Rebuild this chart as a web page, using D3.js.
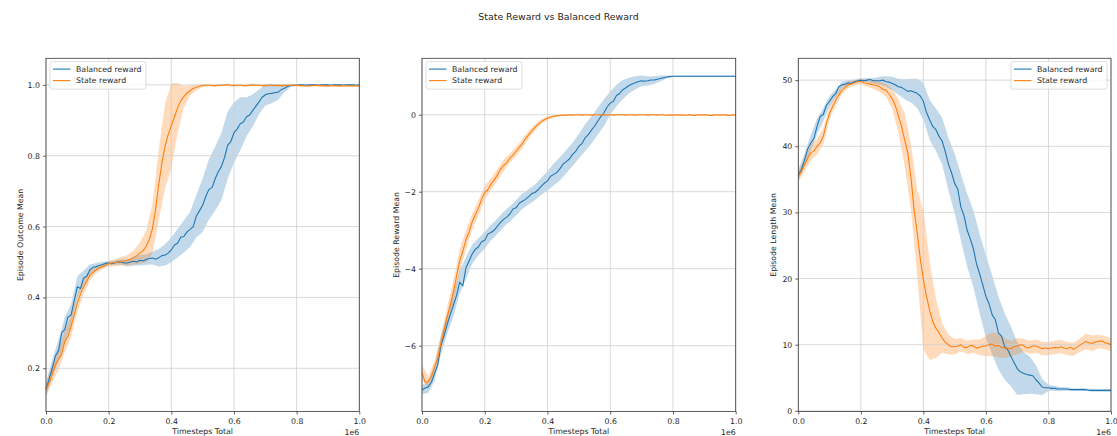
<!DOCTYPE html>
<html>
<head>
<meta charset="utf-8">
<script src="https://cdn.jsdelivr.net/npm/d3@7"></script>
<style>
  html, body { margin: 0; padding: 0; background: #fff; }
  svg { display: block; font-family: "DejaVu Sans", sans-serif; }
</style>
</head>
<body>
<svg id="chart" width="1117" height="436"></svg>
<script>
// ---------------- DATA ----------------
const title = "State Reward vs Balanced Reward";
const seriesNames = ["Balanced reward", "State reward"];
const xLabel = "Timesteps Total";
const xOffsetLabel = "1e6";
const xTickValues = [0, 0.2, 0.4, 0.6, 0.8, 1.0];
const xTickLabels = ["0.0", "0.2", "0.4", "0.6", "0.8", "1.0"];

// timesteps (units of 1e6) for the mean lines
const lineSteps = [
  0.00, 0.01, 0.02, 0.03, 0.04, 0.05, 0.06, 0.07, 0.08, 0.09,
  0.10, 0.11, 0.12, 0.13, 0.14, 0.15, 0.16, 0.17, 0.18, 0.19,
  0.20, 0.21, 0.22, 0.23, 0.24, 0.25, 0.26, 0.27, 0.28, 0.29,
  0.30, 0.31, 0.32, 0.33, 0.34, 0.35, 0.36, 0.37, 0.38, 0.39,
  0.40, 0.41, 0.42, 0.43, 0.44, 0.45, 0.46, 0.47, 0.48, 0.49,
  0.50, 0.51, 0.52, 0.53, 0.54, 0.55, 0.56, 0.57, 0.58, 0.59,
  0.60, 0.61, 0.62, 0.63, 0.64, 0.65, 0.66, 0.67, 0.68, 0.69,
  0.70, 0.71, 0.72, 0.73, 0.74, 0.75, 0.76, 0.77, 0.78, 0.79,
  0.80, 0.81, 0.82, 0.83, 0.84, 0.85, 0.86, 0.87, 0.88, 0.89,
  0.90, 0.91, 0.92, 0.93, 0.94, 0.95, 0.96, 0.97, 0.98, 0.99,
  1.00];
// timesteps for the spread bands (every second line step)
const bandSteps = [0, 0.02, 0.04, 0.06, 0.08, 0.10, 0.12, 0.14, 0.16, 0.18,
  0.20, 0.22, 0.24, 0.26, 0.28, 0.30, 0.32, 0.34, 0.36, 0.38,
  0.40, 0.42, 0.44, 0.46, 0.48, 0.50, 0.52, 0.54, 0.56, 0.58,
  0.60, 0.62, 0.64, 0.66, 0.68, 0.70, 0.72, 0.74, 0.76, 0.78,
  0.80, 0.82, 0.84, 0.86, 0.88, 0.90, 0.92, 0.94, 0.96, 0.98, 1.00];

// Panel 1: Episode Outcome Mean
const outcomeLabel = "Episode Outcome Mean";
const outcomeTicks = [0.2, 0.4, 0.6, 0.8, 1.0];
const outcomeTickLabels = ["0.2", "0.4", "0.6", "0.8", "1.0"];
const outcomeBalanced = [
  0.14, 0.17, 0.20, 0.235, 0.25, 0.30, 0.31, 0.345, 0.35, 0.39,
  0.43, 0.425, 0.455, 0.46, 0.478, 0.485, 0.487, 0.49, 0.493, 0.496,
  0.497, 0.495, 0.498, 0.501, 0.50, 0.497, 0.497, 0.50, 0.502, 0.50,
  0.505, 0.503, 0.507, 0.51, 0.511, 0.508, 0.512, 0.518, 0.52, 0.525,
  0.534, 0.548, 0.553, 0.57, 0.572, 0.585, 0.592, 0.60, 0.63, 0.645,
  0.66, 0.685, 0.705, 0.71, 0.735, 0.755, 0.77, 0.795, 0.83, 0.84,
  0.865, 0.875, 0.89, 0.895, 0.91, 0.915, 0.928, 0.94, 0.952, 0.965,
  0.972, 0.975, 0.976, 0.978, 0.979, 0.986, 0.99, 0.995, 0.998, 0.999,
  0.999, 1.0, 1.0, 0.999, 1.0, 1.0, 1.0, 0.999, 1.0, 1.0,
  1.0, 0.999, 1.0, 1.0, 1.0, 0.999, 1.0, 1.0, 1.0, 0.999,
  1.0];
const outcomeBalancedSpread = [0.02, 0.025, 0.03, 0.035, 0.03, 0.03, 0.02, 0.015, 0.01, 0.008,
  0.006, 0.006, 0.008, 0.01, 0.012, 0.015, 0.015, 0.018, 0.025, 0.03,
  0.035, 0.04, 0.045, 0.05, 0.06, 0.075, 0.085, 0.09, 0.095, 0.095,
  0.085, 0.075, 0.055, 0.045, 0.035, 0.03, 0.028, 0.022, 0.012, 0.004,
  0.002, 0.002, 0.002, 0.002, 0.002, 0.002, 0.002, 0.002, 0.002, 0.002, 0.002];
const outcomeState = [
  0.14, 0.16, 0.185, 0.21, 0.225, 0.24, 0.275, 0.29, 0.318, 0.35,
  0.384, 0.41, 0.43, 0.445, 0.462, 0.47, 0.478, 0.483, 0.487, 0.49,
  0.495, 0.497, 0.498, 0.50, 0.502, 0.503, 0.505, 0.508, 0.513, 0.518,
  0.525, 0.532, 0.545, 0.565, 0.595, 0.65, 0.72, 0.78, 0.826, 0.86,
  0.885, 0.91, 0.935, 0.955, 0.967, 0.977, 0.984, 0.99, 0.993, 0.996,
  0.998, 0.999, 0.999, 0.998, 0.998, 0.999, 0.999, 1.0, 1.0, 0.999,
  0.998, 0.999, 0.999, 0.998, 0.998, 0.999, 1.0, 0.999, 0.999, 0.998,
  0.998, 0.999, 0.999, 0.998, 0.999, 0.998, 0.998, 0.999, 0.999, 0.998,
  0.999, 0.998, 0.998, 0.997, 0.997, 0.998, 0.999, 0.998, 0.998, 0.997,
  0.997, 0.998, 0.998, 0.997, 0.997, 0.998, 0.998, 0.997, 0.997, 0.998,
  0.997];
const outcomeStateSpread = [0.02, 0.025, 0.03, 0.03, 0.03, 0.025, 0.02, 0.015, 0.01, 0.008,
  0.008, 0.01, 0.012, 0.015, 0.02, 0.03, 0.045, 0.07, 0.1, 0.12,
  0.12, 0.07, 0.03, 0.015, 0.008, 0.004, 0.003, 0.003, 0.003, 0.003,
  0.003, 0.003, 0.003, 0.003, 0.003, 0.003, 0.003, 0.003, 0.003, 0.003,
  0.003, 0.003, 0.003, 0.003, 0.003, 0.003, 0.003, 0.003, 0.003, 0.003, 0.003];

// Panel 2: Episode Reward Mean
const rewardLabel = "Episode Reward Mean";
const rewardTicks = [-6, -4, -2, 0];
const rewardTickLabels = ["\u22126", "\u22124", "\u22122", "0"];
const rewardBalanced = [
  -7.15, -7.1, -7.07, -6.95, -6.72, -6.5, -6.0, -5.75, -5.45, -5.2,
  -4.95, -4.7, -4.35, -4.45, -3.98, -3.8, -3.62, -3.5, -3.43, -3.3,
  -3.26, -3.1, -3.06, -3.0, -2.9, -2.8, -2.72, -2.66, -2.58, -2.45,
  -2.42, -2.3, -2.25, -2.2, -2.13, -2.05, -2.02, -1.95, -1.86, -1.78,
  -1.72, -1.6, -1.55, -1.5, -1.4, -1.28, -1.22, -1.15, -1.03, -0.95,
  -0.82, -0.75, -0.6, -0.52, -0.4, -0.3, -0.17, -0.05, 0.05, 0.2,
  0.3, 0.35, 0.5, 0.55, 0.65, 0.7, 0.76, 0.8, 0.83, 0.86,
  0.88, 0.87, 0.88, 0.9, 0.9, 0.92, 0.94, 0.96, 0.98, 0.99,
  1.0, 1.0, 1.0, 1.0, 1.0, 1.0, 1.0, 1.0, 1.0, 1.0,
  1.0, 1.0, 1.0, 1.0, 1.0, 1.0, 1.0, 1.0, 1.0, 1.0,
  1.0];
const rewardBalancedSpread = [0.12, 0.15, 0.2, 0.25, 0.25, 0.3, 0.3, 0.28, 0.25, 0.22,
  0.22, 0.2, 0.2, 0.2, 0.2, 0.2, 0.2, 0.2, 0.2, 0.22,
  0.25, 0.28, 0.3, 0.3, 0.3, 0.32, 0.35, 0.35, 0.35, 0.35,
  0.3, 0.28, 0.25, 0.2, 0.17, 0.14, 0.12, 0.1, 0.08, 0.04,
  0.02, 0.02, 0.02, 0.02, 0.02, 0.02, 0.02, 0.02, 0.02, 0.02, 0.02];
const rewardState = [
  -6.7, -6.95, -6.93, -6.8, -6.55, -6.35, -5.95, -5.6, -5.25, -4.95,
  -4.6, -4.2, -3.8, -3.55, -3.25, -3.05, -2.78, -2.6, -2.42, -2.2,
  -2.02, -1.95, -1.8, -1.7, -1.57, -1.42, -1.32, -1.25, -1.13, -1.05,
  -0.95, -0.85, -0.75, -0.62, -0.52, -0.42, -0.33, -0.25, -0.18, -0.13,
  -0.09, -0.06, -0.04, -0.03, -0.02, -0.01, -0.01, 0, -0.01, 0,
  0, -0.01, 0, 0, -0.01, 0, 0, 0, -0.01, 0,
  0, -0.01, 0, 0, 0, -0.01, 0, 0, -0.01, 0,
  0, 0, -0.01, 0, 0, -0.01, 0, 0, -0.02, 0,
  -0.01, 0, -0.01, 0, -0.02, 0, -0.01, -0.02, 0, -0.01,
  0, -0.01, -0.02, -0.01, 0, -0.01, 0, -0.01, -0.02, 0,
  -0.01];
const rewardStateSpread = [0.2, 0.15, 0.15, 0.2, 0.25, 0.3, 0.3, 0.25, 0.2, 0.2,
  0.18, 0.15, 0.15, 0.15, 0.12, 0.12, 0.12, 0.1, 0.08, 0.06,
  0.05, 0.03, 0.02, 0.015, 0.015, 0.015, 0.015, 0.015, 0.015, 0.015,
  0.015, 0.015, 0.015, 0.015, 0.015, 0.015, 0.015, 0.015, 0.015, 0.015,
  0.015, 0.015, 0.015, 0.015, 0.015, 0.015, 0.015, 0.015, 0.015, 0.015, 0.015];

// Panel 3: Episode Length Mean
const lengthLabel = "Episode Length Mean";
const lengthTicks = [0, 10, 20, 30, 40, 50];
const lengthTickLabels = ["0", "10", "20", "30", "40", "50"];
const lengthBalanced = [
  35.7, 36.5, 37.9, 39.6, 40.5, 41.2, 43.0, 44.5, 44.8, 46.2,
  46.8, 47.5, 48.0, 49.0, 49.3, 49.4, 49.6, 49.5, 49.8, 49.9,
  50.0, 49.9, 50.0, 50.1, 49.9, 49.9, 49.9, 50.0, 49.8, 49.7,
  49.5, 49.3, 49.0, 48.9, 48.6, 48.3, 48.4, 48.2, 48.0, 47.6,
  46.8, 45.1, 44.0, 43.0, 42.5, 41.5, 40.8, 39.2, 37.3, 36.0,
  34.4, 33.5, 30.8, 29.5, 27.3, 26.0, 24.5, 22.2, 20.7, 19.0,
  17.3, 16.2, 14.5, 13.8, 11.8, 11.3, 9.7, 9.2, 8.2, 7.3,
  6.4, 5.9, 5.7, 5.5, 5.4, 5.3, 4.7, 4.2, 3.6, 3.5,
  3.5, 3.4, 3.4, 3.3, 3.3, 3.3, 3.3, 3.2, 3.2, 3.2,
  3.2, 3.2, 3.2, 3.1, 3.1, 3.1, 3.1, 3.1, 3.1, 3.1,
  3.1];
const lengthBalancedSpread = [0.8, 1.0, 1.2, 1.2, 1.0, 0.8, 0.6, 0.5, 0.4, 0.3,
  0.3, 0.3, 0.4, 0.6, 0.8, 1.0, 1.2, 1.5, 1.8, 2.2,
  2.8, 3.0, 3.2, 3.5, 4.0, 4.5, 5.0, 5.5, 5.8, 6.0,
  6.2, 6.0, 5.5, 5.0, 4.5, 4.0, 3.2, 2.8, 2.2, 1.2,
  0.5, 0.35, 0.3, 0.25, 0.2, 0.2, 0.2, 0.2, 0.2, 0.2, 0.2];
const lengthState = [
  35.4, 36.2, 37.2, 38.2, 39.0, 39.3, 40.0, 40.5, 41.5, 43.5,
  45.0, 46.0, 47.0, 47.8, 48.5, 48.9, 49.3, 49.4, 49.6, 49.8,
  49.8, 49.6, 49.5, 49.4, 49.3, 49.2, 49.0, 48.6, 48.5, 47.9,
  47.2, 46.2, 44.6, 43.0, 41.0, 39.0, 35.5, 30.5, 27.0, 23.0,
  19.8, 17.3, 15.2, 13.5, 12.5, 11.8, 11.0, 10.4, 10.0, 9.7,
  9.7, 9.8, 10.0, 9.6, 9.6, 9.9, 9.8, 9.5, 9.6, 9.8,
  9.8, 10.0, 10.1, 9.8, 9.9, 9.6, 9.5, 9.5, 9.4, 9.7,
  9.8, 10.0, 9.9, 9.5, 9.6, 9.8, 9.8, 9.6, 9.4, 9.5,
  9.4, 9.5, 9.6, 9.5, 9.7, 9.5, 9.4, 9.6, 9.3, 9.6,
  9.9, 10.2, 10.5, 10.3, 10.2, 10.4, 10.5, 10.6, 10.3, 10.2,
  10.0];
const lengthStateSpread = [0.8, 1.0, 1.2, 1.2, 1.2, 1.0, 0.8, 0.6, 0.5, 0.4,
  0.4, 0.5, 0.6, 0.8, 1.0, 1.5, 2.5, 4.0, 5.0, 6.5,
  10.5, 7.5, 4.5, 2.2, 1.5, 1.2, 1.0, 1.0, 1.0, 1.2,
  1.5, 1.8, 1.8, 1.5, 1.2, 1.2, 1.0, 1.0, 1.0, 1.0,
  1.0, 1.0, 1.0, 1.0, 1.0, 1.0, 1.2, 1.2, 1.0, 1.0, 1.0];

// ---------------- LAYOUT / STYLE ----------------
const colors = ["#1f77b4", "#ff7f0e"];
const TOP = 58.3, BOTTOM = 411.5;
const panels = [
  { left: 46, right: 359.3, yDomain: [0.078, 1.075], yLabelX: 20,
    label: outcomeLabel, ticks: outcomeTicks, tickLabels: outcomeTickLabels,
    series: [[outcomeBalanced, outcomeBalancedSpread], [outcomeState, outcomeStateSpread]],
    legend: "left" },
  { left: 422, right: 735.7, yDomain: [-7.71, 1.465], yLabelX: 396.7,
    label: rewardLabel, ticks: rewardTicks, tickLabels: rewardTickLabels,
    series: [[rewardBalanced, rewardBalancedSpread], [rewardState, rewardStateSpread]],
    legend: "left" },
  { left: 798.3, right: 1111, yDomain: [-0.1, 53.3], yLabelX: 773.3,
    label: lengthLabel, ticks: lengthTicks, tickLabels: lengthTickLabels,
    series: [[lengthBalanced, lengthBalancedSpread], [lengthState, lengthStateSpread]],
    legend: "right" }
];

const svg = d3.select("#chart");
const FS = 7.8;
const textColor = "#262626";

svg.append("text")
  .attr("x", 558.5).attr("y", 17).attr("dy", "0.35em")
  .attr("text-anchor", "middle").attr("font-size", 9.4).attr("fill", textColor)
  .text(title);

panels.forEach(p => {
  const x = d3.scaleLinear().domain([0, 1]).range([p.left, p.right]);
  const y = d3.scaleLinear().domain(p.yDomain).range([BOTTOM, TOP]);
  const g = svg.append("g");

  // spread bands (band k is centred on line point 2k)
  p.series.forEach((s, i) => {
    const [mean, spread] = s;
    const area = d3.area()
      .x((d, k) => x(bandSteps[k]))
      .y0((d, k) => y(mean[2 * k] - d))
      .y1((d, k) => y(mean[2 * k] + d));
    g.append("path").datum(spread).attr("d", area)
      .attr("fill", colors[i]).attr("fill-opacity", 0.28).attr("stroke", "none");
  });

  // grid
  const grid = g.append("g").attr("stroke", "#cfcfcf").attr("stroke-width", 0.8);
  xTickValues.forEach(v => grid.append("line")
    .attr("x1", x(v)).attr("x2", x(v)).attr("y1", TOP).attr("y2", BOTTOM));
  p.ticks.forEach(v => grid.append("line")
    .attr("x1", p.left).attr("x2", p.right).attr("y1", y(v)).attr("y2", y(v)));

  // mean lines
  p.series.forEach((s, i) => {
    const line = d3.line().x((d, k) => x(lineSteps[k])).y(d => y(d));
    g.append("path").datum(s[0]).attr("d", line)
      .attr("fill", "none").attr("stroke", colors[i]).attr("stroke-width", 1.1)
      .attr("stroke-linejoin", "round");
  });

  // spines
  g.append("rect").attr("x", p.left).attr("y", TOP)
    .attr("width", p.right - p.left).attr("height", BOTTOM - TOP)
    .attr("fill", "none").attr("stroke", "#3a3a3a").attr("stroke-width", 0.8);

  // axes
  const xAxis = d3.axisBottom(x).tickValues(xTickValues)
    .tickFormat((d, i) => xTickLabels[i]).tickSize(3).tickPadding(3.5);
  const gx = g.append("g").attr("transform", `translate(0,${BOTTOM})`).call(xAxis);
  const yAxis = d3.axisLeft(y).tickValues(p.ticks)
    .tickFormat((d, i) => p.tickLabels[i]).tickSize(3).tickPadding(3);
  const gy = g.append("g").attr("transform", `translate(${p.left},0)`).call(yAxis);
  [gx, gy].forEach(a => {
    a.select(".domain").remove();
    a.selectAll(".tick line").attr("stroke", "#3a3a3a").attr("stroke-width", 0.8);
    a.selectAll(".tick text").attr("font-size", FS).attr("fill", textColor)
      .attr("font-family", "DejaVu Sans, sans-serif");
  });

  // axis labels
  g.append("text").attr("x", (p.left + p.right) / 2).attr("y", 431).attr("dy", "0.35em")
    .attr("text-anchor", "middle").attr("font-size", FS).attr("fill", textColor).text(xLabel);
  g.append("text").attr("x", p.right).attr("y", 432).attr("dy", "0.35em")
    .attr("text-anchor", "end").attr("font-size", FS).attr("fill", textColor).text(xOffsetLabel);
  g.append("text")
    .attr("transform", `translate(${p.yLabelX},${(TOP + BOTTOM) / 2}) rotate(-90)`)
    .attr("dy", "0.35em").attr("text-anchor", "middle")
    .attr("font-size", FS).attr("fill", textColor).text(p.label);

  // legend
  const lw = 96, lh = 27.5;
  const lx = p.legend === "left" ? p.left + 4 : p.right - 4 - lw;
  const ly = TOP + 3.3;
  const lg = g.append("g").attr("transform", `translate(${lx},${ly})`);
  lg.append("rect").attr("width", lw).attr("height", lh).attr("rx", 2)
    .attr("fill", "#fff").attr("fill-opacity", 0.8)
    .attr("stroke", "#d6d6d6").attr("stroke-width", 0.8);
  seriesNames.forEach((name, i) => {
    const yy = 7.5 + i * 11.5;
    lg.append("line").attr("x1", 3).attr("x2", 20.5).attr("y1", yy).attr("y2", yy)
      .attr("stroke", colors[i]).attr("stroke-width", 1.1);
    lg.append("text").attr("x", 26).attr("y", yy).attr("dy", "0.35em")
      .attr("font-size", FS).attr("fill", textColor).text(name);
  });
});
</script>
</body>
</html>
